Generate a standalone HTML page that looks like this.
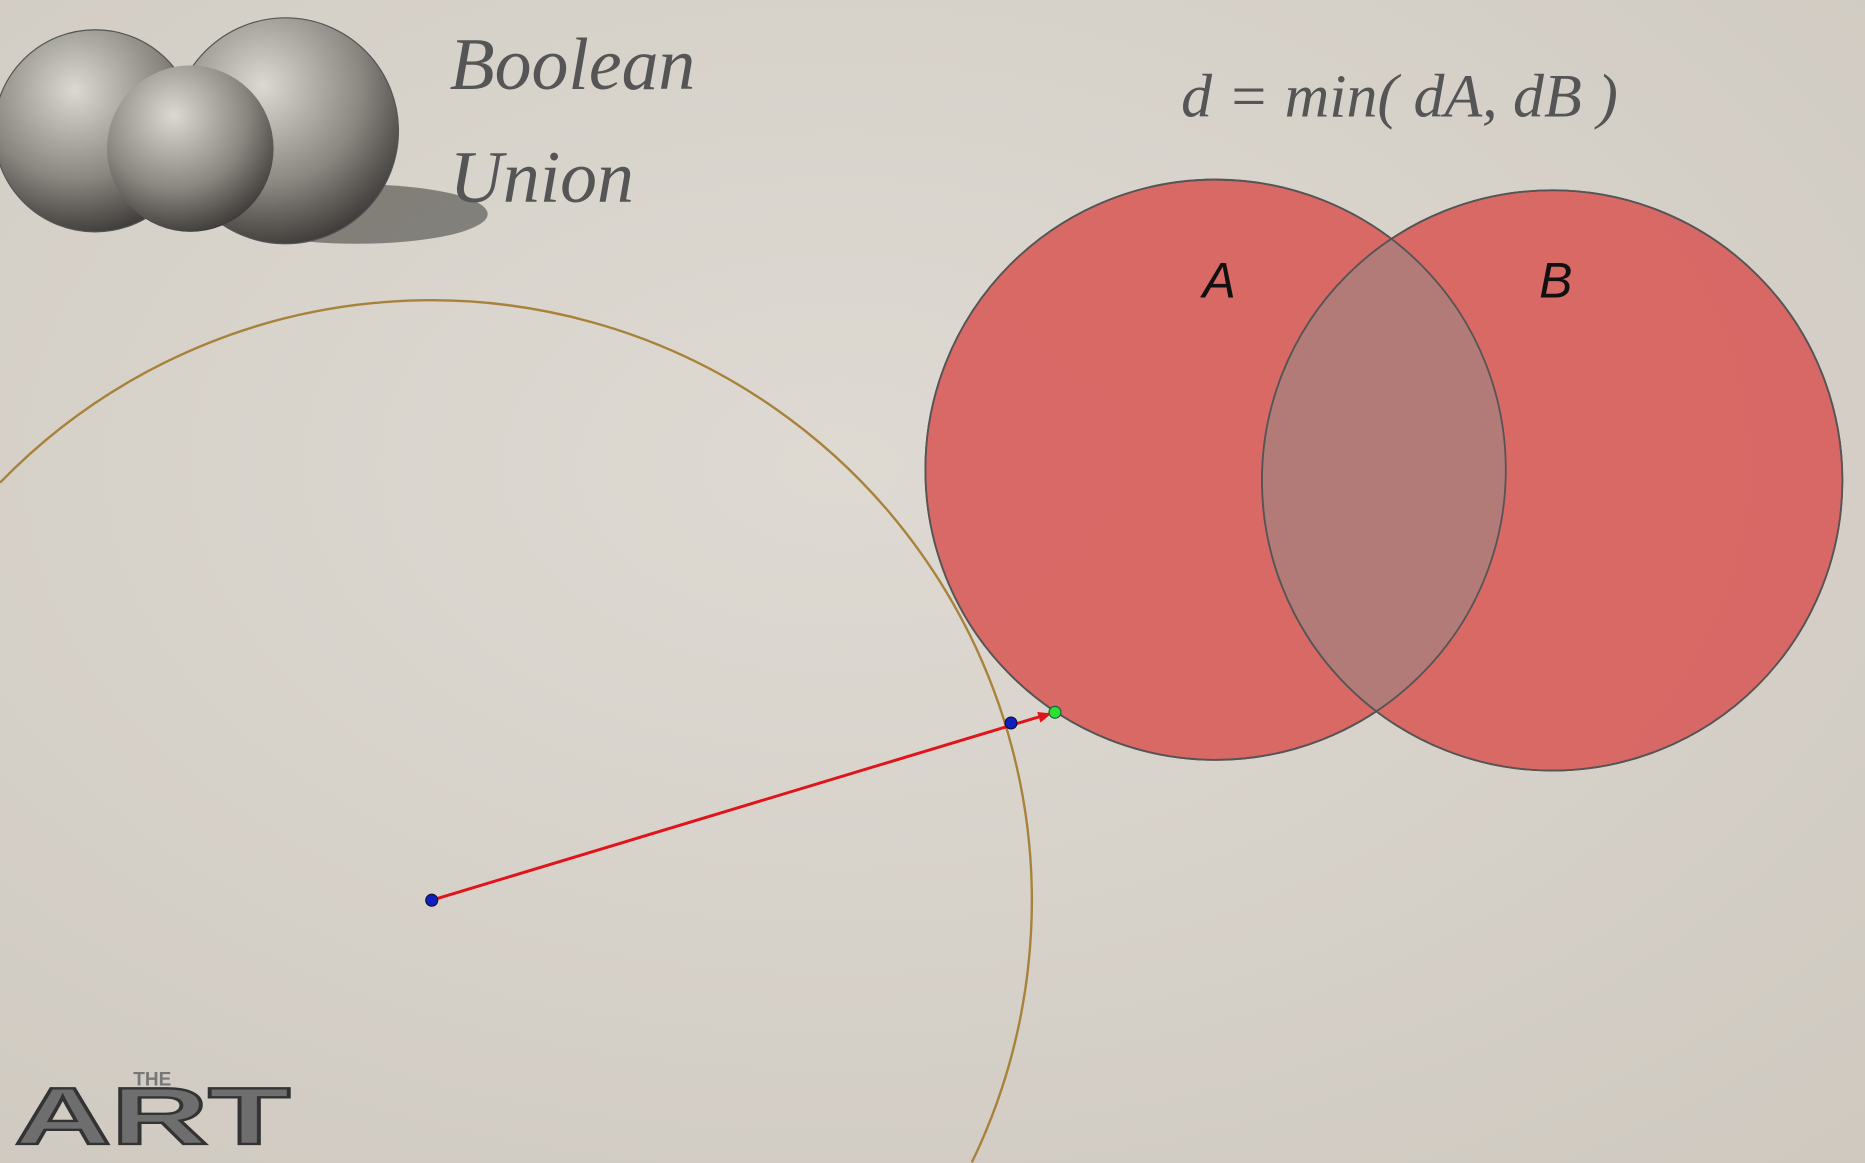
<!DOCTYPE html>
<html><head><meta charset="utf-8">
<style>
html,body{margin:0;padding:0;width:1865px;height:1163px;overflow:hidden;background:#d8d3cb;}
svg{display:block}
</style></head>
<body>
<svg width="1865" height="1163" viewBox="0 0 1568 978" preserveAspectRatio="none" overflow="hidden">
<defs>
<radialGradient id="paper" cx="0.45" cy="0.4" r="0.8">
<stop offset="0" stop-color="#dedad3"/><stop offset="1" stop-color="#cfc9c0"/>
</radialGradient>
<radialGradient id="blobg" cx="0.4" cy="0.3" r="0.8">
<stop offset="0" stop-color="#dcd8d2"/><stop offset="0.55" stop-color="#8a8680"/><stop offset="1" stop-color="#2a2826"/>
</radialGradient>
<clipPath id="clipA"><circle cx="1022" cy="395" r="244"/></clipPath>
</defs>
<rect width="1568" height="978" fill="url(#paper)"/>

<g>
<ellipse cx="300" cy="180" rx="110" ry="25" fill="#4a4743" opacity="0.6"/>
<circle cx="80" cy="110" r="85" fill="url(#blobg)" stroke="#555" stroke-width="1"/>
<circle cx="240" cy="110" r="95" fill="url(#blobg)" stroke="#555" stroke-width="1"/>
<ellipse cx="160" cy="125" rx="70" ry="70" fill="url(#blobg)"/>
</g>

<text x="378" y="75" font-family="Liberation Serif, serif" font-style="italic" font-size="62" fill="#555">Boolean</text>
<text x="378" y="170" font-family="Liberation Serif, serif" font-style="italic" font-size="62" fill="#555">Union</text>
<text x="993" y="98" font-family="Liberation Serif, serif" font-style="italic" font-size="52" fill="#555">d = min( dA, dB )</text>

<g id="shapes"></g>

<text x="1025" y="250" font-family="Liberation Sans, sans-serif" font-style="italic" font-size="42" fill="#111" text-anchor="middle">A</text>
<text x="1308" y="250" font-family="Liberation Sans, sans-serif" font-style="italic" font-size="42" fill="#111" text-anchor="middle">B</text>

<g>
<text x="128" y="913" font-family="Liberation Sans, sans-serif" font-weight="bold" font-size="16" fill="#777" text-anchor="middle">THE</text>
<text x="12" y="962" font-family="Liberation Sans, sans-serif" font-weight="bold" font-size="68" fill="#6e6e6e" stroke="#333" stroke-width="2" textLength="232" lengthAdjust="spacingAndGlyphs">ART</text>
</g>
</svg>
<script>
const circleCx = [1022, 1305];
const circleCy = [395, 404];
const circleR = [244, 244];
const samplePoint = [363, 757];
const sampleRadius = 505;
const nearestPoint = [850, 608];
const surfacePoint = [887, 599];

const NS = 'http://www.w3.org/2000/svg';
const g = document.getElementById('shapes');
function mk(tag, attrs){ const e=document.createElementNS(NS,tag); for(const k in attrs) e.setAttribute(k,attrs[k]); g.appendChild(e); return e; }

// visible arc of distance circle: from left edge (x=0) to bottom edge (y=978)
const sx = 0, sy = samplePoint[1] - Math.sqrt(Math.max(0, sampleRadius*sampleRadius - samplePoint[0]*samplePoint[0]));
const ey = 978, ex = samplePoint[0] + Math.sqrt(Math.max(0, sampleRadius*sampleRadius - (ey-samplePoint[1])*(ey-samplePoint[1])));
const gold = mk('path',{d:`M${sx},${sy} A${sampleRadius},${sampleRadius} 0 0 1 ${ex},${ey - 0.5}`,fill:'none',stroke:'#a8823a','stroke-width':2});



['circle-a','circle-b'].forEach((n,i)=>{
  const c = mk('circle',{cx:circleCx[i],cy:circleCy[i],r:circleR[i],fill:'#d8605c','fill-opacity':0.92,stroke:'#555','stroke-width':1.5});
  
  
});
const lens = mk('circle',{cx:circleCx[1],cy:circleCy[1],r:circleR[1],fill:'#9a8e8a','fill-opacity':0.6,'clip-path':'url(#clipA)'});


['outline-a','outline-b'].forEach((n,i)=>{
  const c = mk('circle',{cx:circleCx[i],cy:circleCy[i],r:circleR[i],fill:'none',stroke:'#555','stroke-width':1.5});
  
  
});

const line = mk('line',{x1:samplePoint[0],y1:samplePoint[1],x2:surfacePoint[0]-4,y2:surfacePoint[1]+1,stroke:'#e0141a','stroke-width':2.5});


const ang = Math.atan2(surfacePoint[1]-samplePoint[1], surfacePoint[0]-samplePoint[0]);
const tx=surfacePoint[0]-3, ty=surfacePoint[1]+1;
const head = mk('polygon',{points:`${tx},${ty} ${tx-12*Math.cos(ang-0.4)},${ty-12*Math.sin(ang-0.4)} ${tx-12*Math.cos(ang+0.4)},${ty-12*Math.sin(ang+0.4)}`,fill:'#e0141a'});



const p1 = mk('circle',{cx:samplePoint[0],cy:samplePoint[1],r:5,fill:'#1020c0',stroke:'#113',"stroke-width":1});


const p2 = mk('circle',{cx:nearestPoint[0],cy:nearestPoint[1],r:5,fill:'#1020c0',stroke:'#113',"stroke-width":1});


const p3 = mk('circle',{cx:surfacePoint[0],cy:surfacePoint[1],r:5,fill:'#30e030',stroke:'#164',"stroke-width":1});


</script>
</body></html>
